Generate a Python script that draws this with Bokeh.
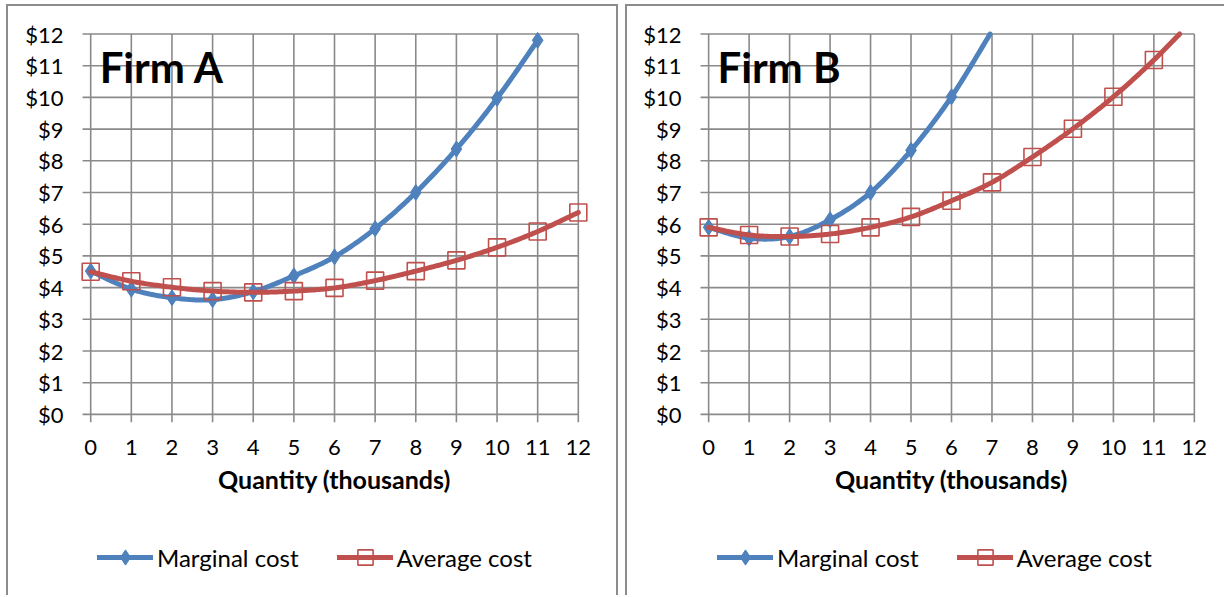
import numpy as np
from bokeh.plotting import figure
from bokeh.layouts import row
from bokeh.models import (Range1d, FixedTicker, PrintfTickFormatter, Legend,
                          LegendItem, Label)
from bokeh.embed import file_html
from bokeh.resources import INLINE

# ---------------- data ----------------
quantity = list(range(13))            # thousands
x_ticks = list(range(13))
y_ticks = list(range(13))             # dollars
firm_a_mc = [4.52, 3.95, 3.68, 3.62, 3.87, 4.37, 4.97, 5.86, 7.00, 8.37, 9.97, 11.80]
firm_a_ac = [4.50, 4.20, 4.01, 3.89, 3.85, 3.89, 3.99, 4.22, 4.52, 4.86, 5.27, 5.77, 6.37]
firm_b_mc = [5.90, 5.56, 5.61, 6.14, 7.00, 8.33, 10.02, 12.10]
firm_b_ac = [5.90, 5.66, 5.61, 5.69, 5.90, 6.23, 6.74, 7.32, 8.12, 9.01, 10.02, 11.18, 12.48]
firm_titles = ["Firm A", "Firm B"]
x_title = "Quantity (thousands)"
series_names = ["Marginal cost", "Average cost"]

BLUE = "#4F81BD"
RED = "#C0504D"
GRID = "#8a8a8a"
BORDER = "2px solid #8c8c8c"
FONT = "Lato"
Y_MAX = y_ticks[-1]

# frame geometry: the plot area also holds the legend strip under the axis
FRAME_W = 508
FRAME_H = 565
PX_PER_Y = 398 / 12.6
Y_TOP = Y_MAX + 0.3
Y_BOTTOM = Y_TOP - FRAME_H / PX_PER_Y


def smooth(xs, ys, steps=24):
    """Excel-style smoothed line: cubic Bezier segments through the points."""
    pts = np.column_stack([xs, ys]).astype(float)
    pad = np.vstack([pts[:1], pts, pts[-1:]])
    t = np.linspace(0, 1, steps + 1)[1:, None]
    out = [pts[0]]
    for i in range(len(pts) - 1):
        prev, cur, nxt, nxt2 = pad[i], pad[i + 1], pad[i + 2], pad[i + 3]
        c1 = cur + (nxt - prev) / 6.0
        c2 = nxt - (nxt2 - cur) / 6.0
        seg = ((1 - t) ** 3) * cur + 3 * ((1 - t) ** 2) * t * c1 + 3 * (1 - t) * t * t * c2 + t ** 3 * nxt
        out.extend(seg)
    out = np.array(out)
    return out[:, 0], out[:, 1]


def clip_top(xs, ys, top):
    ox, oy = [], []
    for i in range(len(xs)):
        if ys[i] <= top:
            ox.append(xs[i]); oy.append(ys[i])
        else:
            if i > 0:
                f = (top - ys[i - 1]) / (ys[i] - ys[i - 1])
                ox.append(xs[i - 1] + f * (xs[i] - xs[i - 1])); oy.append(top)
            break
    return ox, oy


def panel(title, mc, ac, left, right, styles, margin, leg_x):
    p = figure(frame_width=FRAME_W, frame_height=FRAME_H, x_range=Range1d(-0.3, 12.3),
               y_range=Range1d(Y_BOTTOM, Y_TOP), output_backend="svg",
               toolbar_location=None, min_border_left=left, min_border_right=right,
               min_border_top=18, min_border_bottom=6)
    p.outline_line_color = None
    p.xgrid.visible = False
    p.ygrid.visible = False
    p.background_fill_color = "white"
    p.border_fill_color = "white"
    p.styles = styles
    p.margin = margin

    # grid lines with the small outside tick extensions
    n = len(x_ticks)
    p.segment(x0=x_ticks, y0=[-0.25] * n, x1=x_ticks, y1=[Y_MAX] * n,
              line_color=GRID, line_width=1.6)
    m = len(y_ticks)
    p.segment(x0=[-0.2] * m, y0=y_ticks, x1=[x_ticks[-1]] * m, y1=y_ticks,
              line_color=GRID, line_width=1.6)

    q_mc = quantity[:len(mc)]
    q_ac = quantity[:len(ac)]

    sx, sy = smooth(q_mc, mc)
    sx, sy = clip_top(list(sx), list(sy), Y_MAX)
    mc_line = p.line(sx, sy, line_color=BLUE, line_width=5,
                     line_cap="round", line_join="round")
    mcx = [q for q, v in zip(q_mc, mc) if v <= Y_MAX]
    mcy = [v for v in mc if v <= Y_MAX]
    mc_pts = p.scatter(mcx, mcy, marker="diamond", size=16,
                       fill_color=BLUE, line_color=BLUE, line_width=1)

    ax, ay = smooth(q_ac, ac)
    ax, ay = clip_top(list(ax), list(ay), Y_MAX)
    ac_line = p.line(ax, ay, line_color=RED, line_width=5,
                     line_cap="round", line_join="round")
    acx = [q for q, v in zip(q_ac, ac) if v <= Y_MAX]
    acy = [v for v in ac if v <= Y_MAX]
    ac_pts = p.scatter(acx, acy, marker="square", size=17, fill_alpha=0,
                       line_color=RED, line_width=1.6)

    # axes: labels only; the x axis sits on the $0 line
    p.xaxis.ticker = FixedTicker(ticks=x_ticks)
    p.yaxis.ticker = FixedTicker(ticks=y_ticks)
    p.yaxis.formatter = PrintfTickFormatter(format="$%d")
    p.xaxis.fixed_location = y_ticks[0]
    for ax_ in (p.xaxis[0], p.yaxis[0]):
        ax_.axis_line_color = None
        ax_.major_tick_line_color = None
        ax_.minor_tick_line_color = None
        ax_.major_tick_out = 0
        ax_.major_tick_in = 0
        ax_.major_label_text_font = FONT
        ax_.major_label_text_font_size = "22px"
        ax_.major_label_text_color = "black"
    p.yaxis.major_label_standoff = 15
    p.xaxis.major_label_standoff = 26
    p.xaxis.axis_label = x_title
    p.xaxis.axis_label_text_font = FONT
    p.xaxis.axis_label_text_font_style = "bold"
    p.xaxis.axis_label_text_font_size = "25px"
    p.xaxis.axis_label_text_color = "black"
    p.xaxis.axis_label_standoff = 5

    p.add_layout(Label(x=0.22, y=10.97, text=title, text_font=FONT,
                       text_font_style="bold", text_font_size="42px",
                       text_baseline="middle", text_color="black"))

    legend = Legend(items=[LegendItem(label=series_names[0], renderers=[mc_line, mc_pts]),
                           LegendItem(label=series_names[1], renderers=[ac_line, ac_pts])],
                    location=(leg_x, 15), orientation="horizontal",
                    glyph_width=56, glyph_height=38, label_standoff=4, spacing=38,
                    padding=0, margin=0, border_line_alpha=0,
                    background_fill_alpha=0, label_text_font=FONT,
                    label_text_font_size="24px", label_text_color="black")
    p.add_layout(legend, "center")
    return p


pa = panel(firm_titles[0], firm_a_mc, firm_a_ac, 70, 30,
           {"border-top": BORDER, "border-left": BORDER, "border-right": BORDER},
           (4, 0, 0, 6), 19)
pb = panel(firm_titles[1], firm_b_mc, firm_b_ac, 69, 20,
           {"border-top": BORDER, "border-left": BORDER},
           (4, 0, 0, 0), 21)

layout = row(pa, pb, spacing=7)
open("out.html", "w").write(file_html(layout, INLINE))
